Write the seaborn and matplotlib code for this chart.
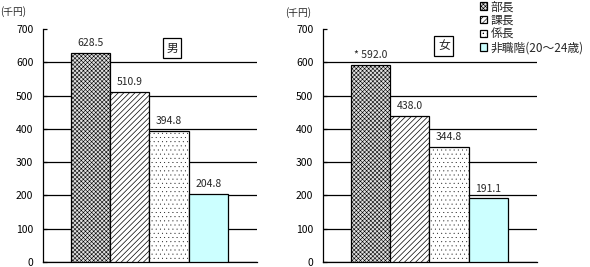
import matplotlib
matplotlib.use("Agg")
import matplotlib.pyplot as plt
import seaborn as sns
import pandas as pd

categories = ["部長", "課長", "係長", "非職階(20～24歳)"]
male_values = [628.5, 510.9, 394.8, 204.8]
female_values = [592.0, 438.0, 344.8, 191.1]
male_labels = ["628.5", "510.9", "394.8", "204.8"]
female_labels = ["* 592.0", "438.0", "344.8", "191.1"]
yticks = [0, 100, 200, 300, 400, 500, 600, 700]
panel_titles = ["男", "女"]
unit_label = "(千円)"

sns.set_theme(style="white")
plt.rcParams["font.family"] = ["Noto Sans CJK JP", "DejaVu Sans"]
plt.rcParams["hatch.linewidth"] = 0.45
plt.rcParams["hatch.color"] = "black"

colors = ["#e0e0e0", "white", "white", "#CCFFFF"]
hatches = ["xxxxxxxx", "//////", "....", ""]
hatch_lws = [0.4, 0.5, 0.15, 0.5]

W, H = 590, 267
fig = plt.figure(figsize=(W / 100, H / 100), dpi=100)

def px_axes(x0, x1, ytop, ybot):
    return fig.add_axes([x0 / W, (H - ybot) / H, (x1 - x0) / W, (ybot - ytop) / H])

ax_m = px_axes(43, 257, 29, 262)
ax_f = px_axes(323, 537, 29, 262)

for ax, vals, labs, title, tpos in [
    (ax_m, male_values, male_labels, panel_titles[0], (0.603, 0.917)),
    (ax_f, female_values, female_labels, panel_titles[1], (0.565, 0.929)),
]:
    df = pd.DataFrame({"cat": categories, "val": vals})
    sns.barplot(data=df, x="cat", y="val", hue="cat", palette=colors,
                width=1.0, edgecolor="black", linewidth=0.9, legend=False,
                saturation=1, ax=ax, zorder=3)
    for p, h, hl in zip(ax.patches, hatches, hatch_lws):
        p.set_hatch(h)
        try:
            p.set_hatch_linewidth(hl)
        except Exception:
            pass
    for cont, lab in zip(ax.containers, labs):
        ax.bar_label(cont, labels=[lab], padding=3.5, fontsize=7.5)
    ax.set_ylim(0, 700)
    ax.set_xlim(-1.213, 4.239)
    ax.set_yticks(yticks)
    ax.set_yticklabels([str(t) for t in yticks], fontsize=7.5)
    ax.set_xticks([])
    ax.set_xlabel("")
    ax.set_ylabel("")
    ax.tick_params(axis="y", direction="in", length=3, width=0.9, pad=7,
                   colors="black", left=True)
    ax.yaxis.grid(True, color="black", linewidth=0.9)
    gl = ax.get_ygridlines()
    gl[-1].set_visible(False)
    ax.set_axisbelow(True)
    for s in ["top", "right"]:
        ax.spines[s].set_visible(False)
    for s in ["left", "bottom"]:
        ax.spines[s].set_visible(True)
        ax.spines[s].set_color("black")
        ax.spines[s].set_linewidth(0.9)
    ax.text(tpos[0], tpos[1], title, transform=ax.transAxes, ha="center",
            va="center", fontsize=8.5,
            bbox=dict(boxstyle="square,pad=0.3", fc="white", ec="black", lw=0.9))
    ax.set_facecolor("white")

fig.text(0 / W, 1 - 12 / H, unit_label, fontsize=7, va="center", ha="left")
fig.text(285 / W, 1 - 13 / H, unit_label, fontsize=7, va="center", ha="left")

handles = list(ax_f.patches)
fig.legend(handles, categories, loc="upper left",
           bbox_to_anchor=(472 / W, 1.0 + 8 / H), frameon=False,
           fontsize=8.5, handlelength=0.6, handleheight=0.6,
           handletextpad=0.3, labelspacing=0.05, borderpad=0.2)

fig.savefig("out.png", dpi=100)
